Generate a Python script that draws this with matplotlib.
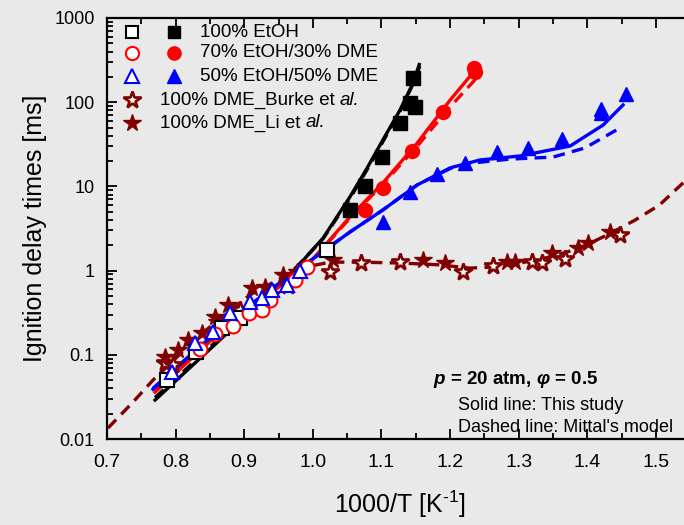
import matplotlib
matplotlib.use("Agg")
import matplotlib.pyplot as plt
from matplotlib.ticker import LogLocator, MultipleLocator, NullFormatter

plt.rcParams['font.family'] = ['Liberation Sans', 'DejaVu Sans']
plt.rcParams['mathtext.fontset'] = 'custom'
plt.rcParams['mathtext.rm'] = 'Liberation Sans'
plt.rcParams['mathtext.it'] = 'Liberation Sans:italic:bold'
plt.rcParams['mathtext.bf'] = 'Liberation Sans:bold'

# ---------------- data ----------------
etoh_open_x = [0.787, 0.830, 0.868, 0.894, 1.021]
etoh_open_y = [0.050, 0.108, 0.208, 0.274, 1.75]
etoh_fill_x = [1.054, 1.076, 1.101, 1.127, 1.1415, 1.149, 1.146]
etoh_fill_y = [5.3, 10.1, 22.3, 56.6, 97.7, 88, 194]

e70_open_x = [0.8355, 0.857, 0.884, 0.907, 0.926, 0.9375, 0.974, 0.991]
e70_open_y = [0.117, 0.177, 0.220, 0.313, 0.340, 0.448, 0.773, 1.10]
e70_fill_x = [1.076, 1.102, 1.144, 1.190, 1.236, 1.235]
e70_fill_y = [5.25, 9.6, 26.3, 76.6, 230, 255]

e50_open_x = [0.795, 0.828, 0.8545, 0.879, 0.908, 0.926, 0.940, 0.962, 0.981]
e50_open_y = [0.0625, 0.138, 0.187, 0.313, 0.424, 0.473, 0.589, 0.675, 0.99]
e50_fill_x = [1.102, 1.1415, 1.181, 1.222, 1.268, 1.3135, 1.363, 1.420, 1.420, 1.456]
e50_fill_y = [3.78, 8.57, 14.0, 19.0, 25.6, 28.6, 36.6, 83, 74, 125]

burke_x = [0.7845, 0.796, 0.894, 0.9375, 0.964, 1.025, 1.070, 1.127, 1.219, 1.2625, 1.319, 1.334, 1.367, 1.4475]
burke_y = [0.080, 0.0757, 0.340, 0.513, 0.656, 0.96, 1.23, 1.26, 0.96, 1.13, 1.28, 1.23, 1.37, 2.65]
li_x = [0.7845, 0.8035, 0.818, 0.838, 0.857, 0.860, 0.876, 0.911, 0.930, 0.9565, 0.977, 1.029,
        1.160, 1.1925, 1.283, 1.2945, 1.348, 1.386, 1.401, 1.433]
li_y = [0.094, 0.114, 0.150, 0.182, 0.281, 0.245, 0.390, 0.621, 0.638, 0.887, 0.962, 1.34,
        1.34, 1.23, 1.28, 1.28, 1.62, 1.85, 2.13, 2.87]

black_solid_x = [0.770, 0.875, 0.977, 1.015, 1.054, 1.079, 1.102, 1.127, 1.146, 1.155]
black_solid_y = [0.029, 0.18, 1.10, 2.44, 7.5, 16.5, 35.6, 80.8, 169, 280]
black_dash_x = [0.770, 0.875, 0.977, 1.015, 1.054, 1.079, 1.102, 1.127, 1.146, 1.156]
black_dash_y = [0.031, 0.19, 1.12, 2.40, 7.2, 15.8, 34.0, 78.0, 165, 270]

red_solid_x = [0.770, 0.879, 0.991, 1.054, 1.102, 1.152, 1.200, 1.239]
red_solid_y = [0.036, 0.239, 1.13, 4.34, 11.0, 32.7, 106, 255]
red_dash_x = [0.770, 0.879, 0.991, 1.054, 1.102, 1.152, 1.200, 1.239]
red_dash_y = [0.037, 0.240, 1.12, 4.2, 10.6, 30.0, 88, 195]

blue_solid_x = [0.767, 0.879, 0.981, 1.054, 1.102, 1.152, 1.200, 1.2435, 1.302, 1.375, 1.423, 1.452]
blue_solid_y = [0.039, 0.259, 1.07, 2.87, 5.25, 10.4, 16.6, 20.6, 23.0, 30.2, 53.6, 92.7]
blue_dash_x = [0.767, 0.879, 0.981, 1.054, 1.102, 1.152, 1.200, 1.239, 1.287, 1.350, 1.3965, 1.4475]
blue_dash_y = [0.040, 0.26, 1.07, 2.87, 5.25, 10.4, 16.3, 19.2, 21.1, 22.3, 28.6, 49.4]

dme_dash_x = [0.7015, 0.738, 0.767, 0.8355, 0.908, 0.981, 1.025, 1.069, 1.127, 1.185, 1.229,
              1.258, 1.302, 1.3455, 1.389, 1.433, 1.470, 1.505, 1.541]
dme_dash_y = [0.0135, 0.0275, 0.050, 0.172, 0.513, 1.07, 1.26, 1.26, 1.23, 1.17, 1.07,
              1.10, 1.23, 1.45, 1.85, 2.75, 4.0, 6.0, 11.3]

legend_labels = ["100% EtOH", "70% EtOH/30% DME", "50% EtOH/50% DME",
                 "100% DME_Burke et ", "100% DME_Li et "]

xticks = [0.7, 0.8, 0.9, 1.0, 1.1, 1.2, 1.3, 1.4, 1.5]
yticks = [0.01, 0.1, 1, 10, 100, 1000]
ytick_labels = ["0.01", "0.1", "1", "10", "100", "1000"]

# ---------------- figure ----------------
bg = '#e9e9e9'
fig = plt.figure(figsize=(6.84, 5.25), dpi=100, facecolor=bg)
ax = fig.add_axes([107 / 684, 86 / 525, 617.6 / 684, 421 / 525], facecolor=bg)

DR = '#800000'
lw = 2.4
dash = (0, (3.5, 2.2))

ax.plot(dme_dash_x, dme_dash_y, color=DR, lw=lw, ls=dash, zorder=2)
ax.plot(black_dash_x, black_dash_y, color='black', lw=lw, ls=dash, zorder=2)
ax.plot(red_dash_x, red_dash_y, color='red', lw=lw, ls=dash, zorder=2)
ax.plot(blue_dash_x, blue_dash_y, color='blue', lw=lw, ls=dash, zorder=2)
ax.plot(black_solid_x, black_solid_y, color='black', lw=lw, zorder=2)
ax.plot(red_solid_x, red_solid_y, color='red', lw=lw, zorder=2)
ax.plot(blue_solid_x, blue_solid_y, color='blue', lw=lw, zorder=2)

ms = 9.5
st = dict(ls='none', zorder=3)
ax.plot(burke_x, burke_y, marker='*', ms=ms + 3.5, mfc='white', mec=DR, mew=1.9, **st)
ax.plot(li_x, li_y, marker='*', ms=ms + 3.5, mfc=DR, mec=DR, mew=1.0, **st)
ax.plot(etoh_open_x, etoh_open_y, marker='s', ms=ms, mfc='white', mec='black', mew=1.5, **st)
ax.plot(etoh_fill_x, etoh_fill_y, marker='s', ms=ms, mfc='black', mec='black', **st)
ax.plot(e70_open_x, e70_open_y, marker='o', ms=ms + 0.5, mfc='white', mec='red', mew=1.5, **st)
ax.plot(e70_fill_x, e70_fill_y, marker='o', ms=ms + 0.5, mfc='red', mec='red', **st)
ax.plot(e50_open_x, e50_open_y, marker='^', ms=ms + 1, mfc='white', mec='blue', mew=1.5, **st)
ax.plot(e50_fill_x, e50_fill_y, marker='^', ms=ms + 1, mfc='blue', mec='blue', **st)

ax.set_xlim(0.7, 1.6)
ax.set_yscale('log')
ax.set_ylim(0.01, 1000)
ax.set_xticks(xticks)
ax.set_xticklabels([f"{v:.1f}" for v in xticks])
ax.xaxis.set_minor_locator(MultipleLocator(0.05))
ax.set_yticks(yticks, ytick_labels)
ax.yaxis.set_minor_locator(LogLocator(base=10, subs=range(2, 10)))
ax.yaxis.set_minor_formatter(NullFormatter())
ax.tick_params(which='both', direction='in', top=True, right=False, width=1.3)
ax.tick_params(which='major', length=7)
ax.tick_params(which='minor', length=4)
ax.tick_params(axis='x', pad=11, labelsize=14)
ax.tick_params(axis='y', pad=9, labelsize=13)
for s in ['left', 'bottom', 'top']:
    ax.spines[s].set_linewidth(1.6)
ax.spines['right'].set_visible(False)

ax.set_xlabel("1000/T [K$^{\\mathdefault{\\text{-}1}}$]", fontsize=18)
ax.xaxis.set_label_coords(0.474, -0.118)
ax.set_ylabel("Ignition delay times [ms]", fontsize=18)
ax.yaxis.set_label_coords(-0.097, 0.5)

# legend (manual)
tr = ax.transAxes
rows = [0.9667, 0.9169, 0.8622, 0.8052, 0.7506]
xo, xf, xt, xt2 = 0.0405, 0.1085, 0.1506, 0.0858
leg_styles = [
    (dict(marker='s', ms=ms - 0.5, mfc='white', mec='black', mew=1.5),
     dict(marker='s', ms=ms - 0.5, mfc='black', mec='black')),
    (dict(marker='o', ms=ms, mfc='white', mec='red', mew=1.5),
     dict(marker='o', ms=ms, mfc='red', mec='red')),
    (dict(marker='^', ms=ms + 1, mfc='white', mec='blue', mew=1.5),
     dict(marker='^', ms=ms + 1, mfc='blue', mec='blue')),
]
fs_leg = 13.5
for i in range(3):
    ax.plot([xo], [rows[i]], transform=tr, clip_on=False, ls='none', **leg_styles[i][0])
    ax.plot([xf], [rows[i]], transform=tr, clip_on=False, ls='none', **leg_styles[i][1])
    ax.text(xt, rows[i], legend_labels[i], transform=tr, fontsize=fs_leg, va='center', ha='left')
ax.plot([xo], [rows[3]], transform=tr, clip_on=False, ls='none', marker='*', ms=ms + 3.5,
        mfc='white', mec=DR, mew=1.9)
ax.plot([xo], [rows[4]], transform=tr, clip_on=False, ls='none', marker='*', ms=ms + 3.5,
        mfc=DR, mec=DR)
for r, lab in zip(rows[3:], legend_labels[3:]):
    t = ax.text(xt2, r, lab, transform=tr, fontsize=fs_leg, va='center', ha='left')
    ax.annotate("al.", xy=(1, 0.5), xycoords=t, va='center', ha='left', fontsize=fs_leg,
                fontstyle='italic')

# condition annotation
ax.text((433 - 107) / 617.6, (439 - 380) / 421, "$p$ = 20 atm, $\\varphi$ = 0.5",
        transform=tr, fontsize=13.5, fontweight='bold', va='center', ha='left')
ax.text((458 - 107) / 617.6, (439 - 405) / 421, "Solid line: This study",
        transform=tr, fontsize=13, va='center', ha='left')
ax.text((458 - 107) / 617.6, (439 - 427) / 421, "Dashed line: Mittal's model",
        transform=tr, fontsize=13, va='center', ha='left')

fig.savefig("out.png", dpi=100, facecolor=bg)
